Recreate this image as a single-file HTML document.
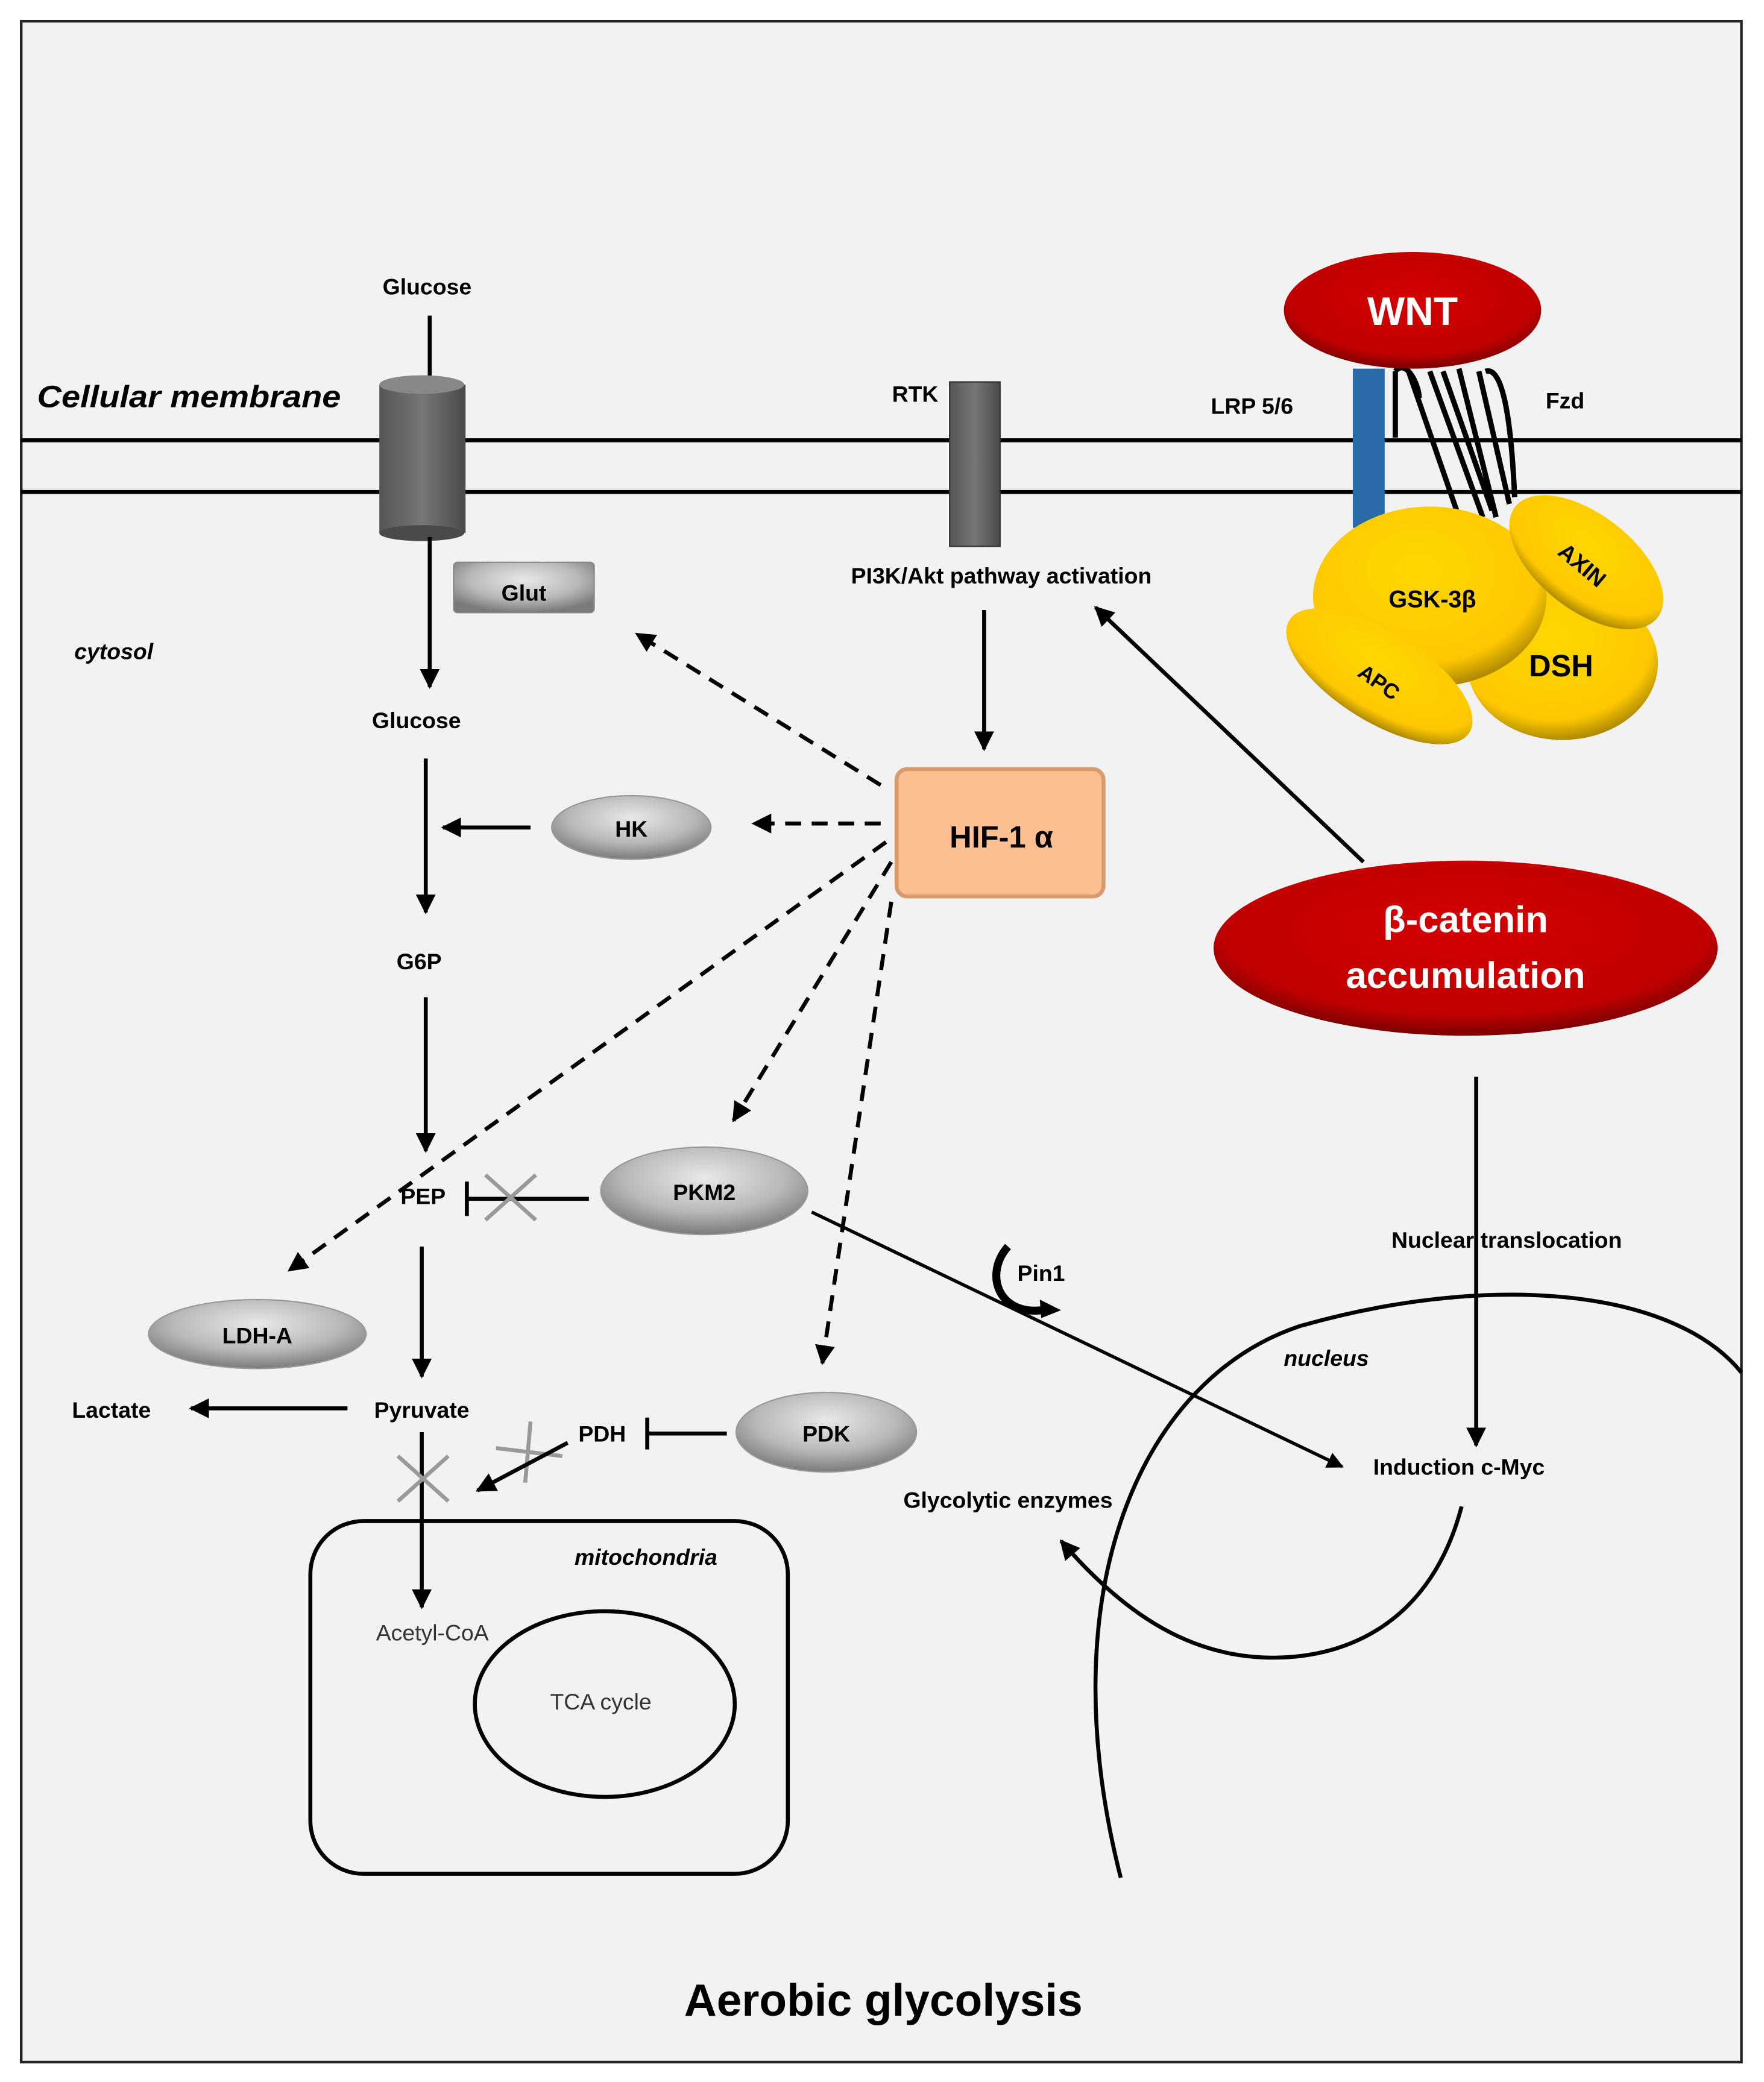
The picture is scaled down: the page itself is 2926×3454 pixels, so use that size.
<!DOCTYPE html>
<html><head><meta charset="utf-8">
<style>html,body{margin:0;padding:0;background:#fff}svg{display:block}</style></head>
<body>
<svg width="2926" height="3454" viewBox="0 0 1330 1570" xmlns="http://www.w3.org/2000/svg" font-family="Liberation Sans, DejaVu Sans, sans-serif">
<defs>
<marker id="ah" viewBox="0 0 10 10" refX="9" refY="5" markerWidth="5" markerHeight="5" orient="auto"><path d="M0,0L10,5L0,10z" fill="#000"/></marker>
<radialGradient id="gy" cx="50%" cy="35%" r="65%"><stop offset="0" stop-color="#e8e8e8"/><stop offset="0.6" stop-color="#b8b8b8"/><stop offset="1" stop-color="#7a7a7a"/></radialGradient>
<radialGradient id="rd" cx="50%" cy="40%" r="60%"><stop offset="0" stop-color="#d40000"/><stop offset="0.8" stop-color="#c00000"/><stop offset="1" stop-color="#7a0000"/></radialGradient>
<radialGradient id="yl" cx="45%" cy="35%" r="65%"><stop offset="0" stop-color="#ffd700"/><stop offset="0.8" stop-color="#fdc800"/><stop offset="1" stop-color="#b08a00"/></radialGradient>
<linearGradient id="cyl" x1="0" x2="1"><stop offset="0" stop-color="#555"/><stop offset="0.5" stop-color="#777"/><stop offset="1" stop-color="#4a4a4a"/></linearGradient>
</defs>
<rect x="0" y="0" width="1330" height="1570" fill="#fff"/>
<rect x="16" y="16" width="1297" height="1539" fill="#f2f2f2" stroke="#222" stroke-width="2"/>
<line x1="16" y1="332" x2="1313" y2="332" stroke="#000" stroke-width="3"/>
<line x1="16" y1="371" x2="1313" y2="371" stroke="#000" stroke-width="3"/>

<g font-weight="bold" font-size="17" fill="#000">
<text x="322" y="222" text-anchor="middle">Glucose</text>
<text x="28" y="307" font-size="23" font-style="italic" textLength="229" lengthAdjust="spacingAndGlyphs">Cellular membrane</text>
<text x="690" y="303" text-anchor="middle">RTK</text>
<text x="944" y="312" text-anchor="middle">LRP 5/6</text>
<text x="1180" y="308" text-anchor="middle">Fzd</text>
<text x="755" y="440" text-anchor="middle">PI3K/Akt pathway activation</text>
<text x="56" y="497" font-style="italic">cytosol</text>
<text x="314" y="549" text-anchor="middle">Glucose</text>
<text x="316" y="731" text-anchor="middle">G6P</text>
<text x="319" y="908" text-anchor="middle">PEP</text>
<text x="84" y="1069" text-anchor="middle">Lactate</text>
<text x="318" y="1069" text-anchor="middle">Pyruvate</text>
<text x="454" y="1087" text-anchor="middle">PDH</text>
<text x="760" y="1137" text-anchor="middle">Glycolytic enzymes</text>
<text x="1100" y="1112" text-anchor="middle">Induction c-Myc</text>
<text x="1136" y="941" text-anchor="middle">Nuclear translocation</text>
<text x="785" y="966" text-anchor="middle">Pin1</text>
<text x="1000" y="1030" text-anchor="middle" font-style="italic">nucleus</text>
<text x="487" y="1180" text-anchor="middle" font-style="italic">mitochondria</text>
</g>
<text x="326" y="1237" text-anchor="middle" font-size="17" fill="#333">Acetyl-CoA</text>
<text x="453" y="1289" text-anchor="middle" font-size="17" fill="#333">TCA cycle</text>
<text x="666" y="1520" text-anchor="middle" font-size="34" font-weight="bold">Aerobic glycolysis</text>

<line x1="324" y1="238" x2="324" y2="290" stroke="#000" stroke-width="3"/>
<rect x="286" y="290" width="65" height="112" fill="url(#cyl)"/>
<ellipse cx="318" cy="290" rx="32" ry="7" fill="#888"/>
<ellipse cx="318" cy="402" rx="32" ry="6" fill="#4a4a4a"/>
<rect x="342" y="424" width="106" height="38" rx="3" fill="url(#gy)" stroke="#888"/>
<text x="395" y="453" text-anchor="middle" font-size="17" font-weight="bold">Glut</text>
<line x1="324" y1="405" x2="324" y2="518" stroke="#000" stroke-width="3" marker-end="url(#ah)"/>
<line x1="321" y1="572" x2="321" y2="688" stroke="#000" stroke-width="3" marker-end="url(#ah)"/>
<line x1="321" y1="752" x2="321" y2="868" stroke="#000" stroke-width="3" marker-end="url(#ah)"/>
<line x1="318" y1="940" x2="318" y2="1038" stroke="#000" stroke-width="3" marker-end="url(#ah)"/>
<line x1="318" y1="1080" x2="318" y2="1212" stroke="#000" stroke-width="3" marker-end="url(#ah)"/>
<line x1="262" y1="1062" x2="144" y2="1062" stroke="#000" stroke-width="3" marker-end="url(#ah)"/>

<rect x="716" y="288" width="38" height="124" fill="url(#cyl)" stroke="#333"/>
<line x1="742" y1="460" x2="742" y2="565" stroke="#000" stroke-width="3" marker-end="url(#ah)"/>

<rect x="676" y="580" width="156" height="96" rx="8" fill="#fbbf92" stroke="#d99a6c" stroke-width="3"/>
<text x="755" y="639" text-anchor="middle" font-size="23" font-weight="bold">HIF-1 α</text>

<g stroke="#000" stroke-width="3" stroke-dasharray="12,8" fill="none" marker-end="url(#ah)">
<line x1="664" y1="592" x2="480" y2="478"/>
<line x1="664" y1="621" x2="568" y2="621"/>
<line x1="668" y1="635" x2="218" y2="958"/>
<line x1="672" y1="650" x2="553" y2="845"/>
<line x1="672" y1="680" x2="620" y2="1028"/>
</g>

<ellipse cx="476" cy="624" rx="60" ry="24" fill="url(#gy)" stroke="#999"/>
<text x="476" y="631" text-anchor="middle" font-size="17" font-weight="bold">HK</text>
<line x1="400" y1="624" x2="334" y2="624" stroke="#000" stroke-width="3" marker-end="url(#ah)"/>

<ellipse cx="531" cy="898" rx="78" ry="33" fill="url(#gy)" stroke="#999"/>
<text x="531" y="905" text-anchor="middle" font-size="17" font-weight="bold">PKM2</text>
<line x1="444" y1="904" x2="352" y2="904" stroke="#000" stroke-width="3"/>
<line x1="352" y1="891" x2="352" y2="917" stroke="#000" stroke-width="3"/>
<g stroke="#999" stroke-width="3"><line x1="366" y1="886" x2="404" y2="920"/><line x1="404" y1="886" x2="366" y2="920"/></g>
<line x1="612" y1="914" x2="1012" y2="1106" stroke="#000" stroke-width="2.5" marker-end="url(#ah)"/>
<path d="M760,940 C742,960 752,992 786,988" stroke="#000" stroke-width="6" fill="none"/>
<path d="M784,980 L800,988 L785,994z" fill="#000"/>

<ellipse cx="194" cy="1006" rx="82" ry="26" fill="url(#gy)" stroke="#999"/>
<text x="194" y="1013" text-anchor="middle" font-size="17" font-weight="bold">LDH-A</text>

<ellipse cx="623" cy="1080" rx="68" ry="30" fill="url(#gy)" stroke="#999"/>
<text x="623" y="1087" text-anchor="middle" font-size="17" font-weight="bold">PDK</text>
<line x1="548" y1="1081" x2="488" y2="1081" stroke="#000" stroke-width="3"/>
<line x1="488" y1="1069" x2="488" y2="1093" stroke="#000" stroke-width="3"/>
<g stroke="#999" stroke-width="3"><line x1="400" y1="1072" x2="396" y2="1118"/><line x1="374" y1="1092" x2="424" y2="1098"/><line x1="300" y1="1098" x2="338" y2="1132"/><line x1="338" y1="1098" x2="300" y2="1132"/></g>
<line x1="428" y1="1088" x2="360" y2="1124" stroke="#000" stroke-width="3" marker-end="url(#ah)"/>

<rect x="234" y="1147" width="360" height="266" rx="40" fill="none" stroke="#000" stroke-width="3"/>
<ellipse cx="456" cy="1285" rx="98" ry="70" fill="none" stroke="#000" stroke-width="3"/>

<path d="M845,1416 C790,1200 860,1040 980,1000 C1120,960 1260,970 1313,1035" fill="none" stroke="#000" stroke-width="3"/>
<path d="M1102,1136 C1080,1220 1020,1250 960,1250 C900,1250 850,1220 800,1162" fill="none" stroke="#000" stroke-width="3" marker-end="url(#ah)"/>
<line x1="1113" y1="812" x2="1113" y2="1090" stroke="#000" stroke-width="3" marker-end="url(#ah)"/>

<line x1="1028" y1="650" x2="826" y2="458" stroke="#000" stroke-width="3" marker-end="url(#ah)"/>
<ellipse cx="1105" cy="715" rx="190" ry="66" fill="url(#rd)"/>
<text x="1105" y="703" text-anchor="middle" font-size="28" font-weight="bold" fill="#fff">β-catenin</text>
<text x="1105" y="745" text-anchor="middle" font-size="28" font-weight="bold" fill="#fff">accumulation</text>

<rect x="1020" y="278" width="24" height="120" fill="#2b6aa8"/>
<g stroke="#000" stroke-width="4" fill="none">
<path d="M1052,280 L1052,330 M1052,280 C1060,270 1070,290 1070,300"/>
<path d="M1062,280 L1100,390 M1078,280 L1118,390 M1088,280 L1125,385 M1100,278 L1128,390 M1115,280 L1138,380 M1120,280 C1135,275 1140,330 1142,375"/>
</g>
<ellipse cx="1065" cy="234" rx="97" ry="44" fill="url(#rd)"/>
<text x="1065" y="245" text-anchor="middle" font-size="30" font-weight="bold" fill="#fff">WNT</text>
<ellipse cx="1178" cy="500" rx="72" ry="58" fill="url(#yl)"/>
<ellipse cx="1078" cy="450" rx="88" ry="68" fill="url(#yl)"/>
<ellipse cx="1196" cy="424" rx="68" ry="36" transform="rotate(38 1196 424)" fill="url(#yl)"/>
<ellipse cx="1040" cy="510" rx="80" ry="34" transform="rotate(32 1040 510)" fill="url(#yl)"/>
<text x="1080" y="458" text-anchor="middle" font-size="18" font-weight="bold">GSK-3β</text>
<text x="1177" y="510" text-anchor="middle" font-size="23" font-weight="bold">DSH</text>
<text x="1193" y="432" text-anchor="middle" font-size="17" font-weight="bold" transform="rotate(40 1193 426)">AXIN</text>
<text x="1040" y="520" text-anchor="middle" font-size="16" font-weight="bold" transform="rotate(35 1040 514)">APC</text>
</svg>
</body></html>
